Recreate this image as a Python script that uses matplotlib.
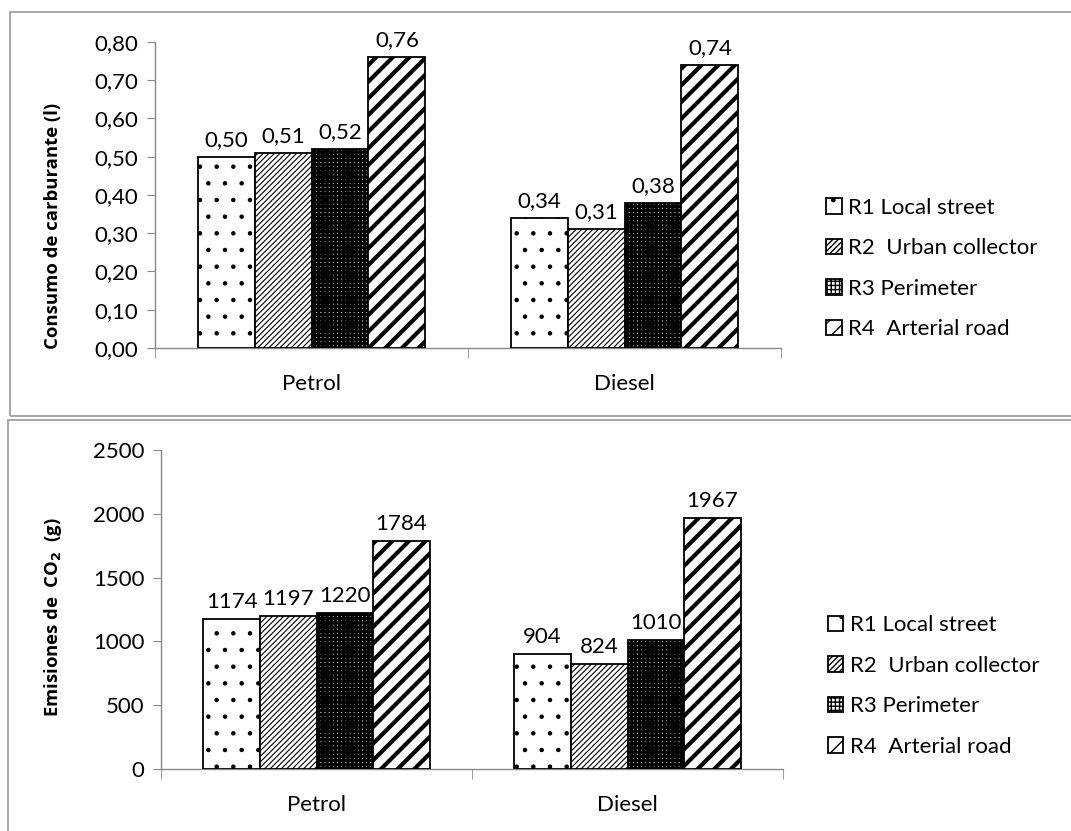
import matplotlib
matplotlib.use("Agg")
import matplotlib.pyplot as plt
from matplotlib.patches import Rectangle
import numpy as np

plt.rcParams['font.family'] = ['Lato', 'DejaVu Sans']

fuels = ["Petrol", "Diesel"]
routes = ["R1 Local street", "R2  Urban collector", "R3 Perimeter", "R4  Arterial road"]

fuel_litres = {
    "R1": [0.50, 0.34],
    "R2": [0.51, 0.31],
    "R3": [0.52, 0.38],
    "R4": [0.76, 0.74],
}
co2_grams = {
    "R1": [1174, 904],
    "R2": [1197, 824],
    "R3": [1220, 1010],
    "R4": [1784, 1967],
}

# hatch pattern and hatch line width for each route
styles = [
    (".", 0.8),
    ("//////", 0.8),
    ("++++", 2.3),
    ("//", 3.0),
]

FS = 16
W, H = 1071, 831
fig = plt.figure(figsize=(W / 100, H / 100), dpi=100)

# panel frames
GRAY = "#a0a0a0"
fig.add_artist(Rectangle((10 / W, 1 - 416 / H), 1.2, (416 - 12) / H,
                         transform=fig.transFigure, fill=False,
                         edgecolor=GRAY, lw=1.3))
fig.add_artist(Rectangle((8 / W, -0.2), 1.2, 1 - 420 / H + 0.2,
                         transform=fig.transFigure, fill=False,
                         edgecolor=GRAY, lw=1.3))


def fmt_comma(v):
    return f"{v:.2f}".replace(".", ",")


def draw_panel(ax, data, ylim, yticks, ytick_fmt, label_fmt, ylabel):
    n = len(routes)
    group = 0.728
    bw = group / n
    x = np.arange(len(fuels))
    handles = []
    for i, key in enumerate(["R1", "R2", "R3", "R4"]):
        hatch, hlw = styles[i]
        offs = (i - (n - 1) / 2) * bw
        with plt.rc_context({"hatch.linewidth": hlw}):
            bars = ax.bar(x + offs, data[key], width=bw, facecolor="white",
                          edgecolor="black", linewidth=1.3, hatch=hatch,
                          label=routes[i], zorder=3)
        handles.append(bars)
        for xi, v in zip(x + offs, data[key]):
            ax.annotate(label_fmt(v), (xi, v), xytext=(0, 5),
                        textcoords="offset points", ha="center", va="bottom",
                        fontsize=FS, color="black")
    ax.set_xlim(-0.5, len(fuels) - 0.5)
    ax.set_ylim(*ylim)
    ax.set_yticks(yticks)
    ax.set_yticklabels([ytick_fmt(t) for t in yticks])
    ax.set_xticks(x)
    ax.set_xticklabels(fuels)
    ax.set_xticks(np.arange(len(fuels) + 1) - 0.5, minor=True)
    ax.tick_params(axis="x", which="major", length=0, pad=19, labelsize=FS)
    ax.tick_params(axis="x", which="minor", length=7, color="#888888")
    ax.tick_params(axis="y", length=6, color="#888888", labelsize=FS, pad=6)
    for s in ["top", "right"]:
        ax.spines[s].set_visible(False)
    for s in ["left", "bottom"]:
        ax.spines[s].set_color("#888888")
        ax.spines[s].set_linewidth(1.0)
    ax.set_ylabel(ylabel, fontsize=13.3, fontweight="bold",
                  family=["Open Sans", "DejaVu Sans"])
    leg = ax.legend(handles=handles, loc="center left",
                    bbox_to_anchor=(1.04, 0.26), frameon=False,
                    fontsize=FS, handlelength=0.7, handleheight=0.7,
                    handletextpad=0.3, labelspacing=0.92)
    return leg


ax1 = fig.add_axes([155 / W, 1 - 348 / H, (781 - 155) / W, (348 - 42) / H])
draw_panel(ax1, fuel_litres, (0, 0.8), np.round(np.arange(0, 0.81, 0.1), 2),
           fmt_comma, fmt_comma, "Consumo de carburante (l)")

ax2 = fig.add_axes([161 / W, 1 - 769 / H, (783 - 161) / W, (769 - 450) / H])
draw_panel(ax2, co2_grams, (0, 2500), np.arange(0, 2501, 500),
           lambda t: f"{int(t)}", lambda v: f"{int(v)}",
           "Emisiones de  CO$_\\mathbf{2}$  (g)")
ax1.yaxis.set_label_coords(-0.149, 0.40)
ax2.yaxis.set_label_coords(-0.156, 0.476)

fig.savefig("out.png", dpi=100)
